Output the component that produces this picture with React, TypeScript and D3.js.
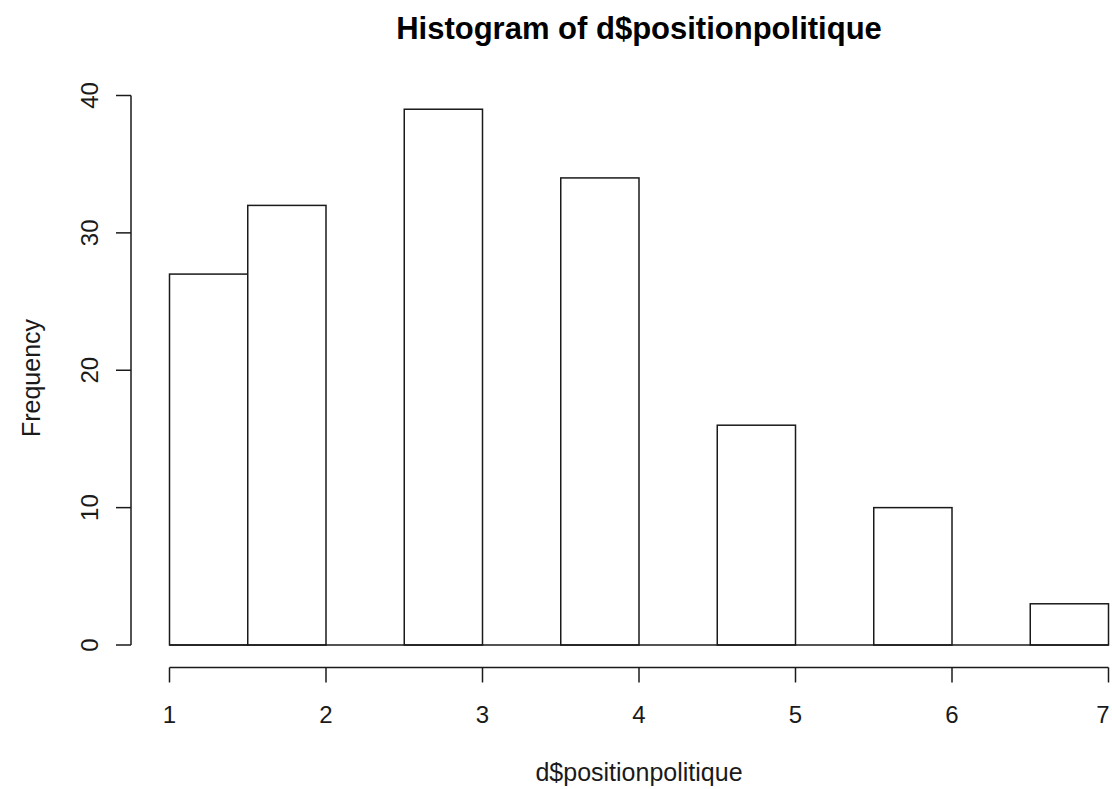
import React from "react";
import * as d3 from "d3";

// Histogram bins (width 0.5) and their counts
const binStarts = [1, 1.5, 2, 2.5, 3, 3.5, 4, 4.5, 5, 5.5, 6, 6.5];
const binWidth = 0.5;
const counts = [27, 32, 0, 39, 0, 34, 0, 16, 0, 10, 0, 3];
const xTicks = [1, 2, 3, 4, 5, 6, 7];
const yTicks = [0, 10, 20, 30, 40];

const title = "Histogram of d$positionpolitique";
const xLabel = "d$positionpolitique";
const yLabel = "Frequency";

const W = 1112;
const H = 789;
const FONT = "'Liberation Sans', Arial, Helvetica, sans-serif";
const INK = "#1a1a1a";

export default function App() {
  const x = d3.scaleLinear().domain([1, 7]).range([169.5, 1108.5]);
  const y = d3.scaleLinear().domain([0, 40]).range([645, 95.5]);

  const axisY = 667.5; // x axis line
  const axisX = 131; // y axis line
  const tick = 15;

  return (
    <svg
      width={W}
      height={H}
      style={{ position: "absolute", left: 0, top: 0, background: "#fff" }}
      fontFamily={FONT}
    >
      <rect width={W} height={H} fill="#fff" />
      {/* bars */}
      <g fill="#fff" stroke={INK} strokeWidth={1.5}>
        {binStarts.map((b, i) =>
          counts[i] > 0 ? (
            <rect
              key={i}
              x={x(b)}
              y={y(counts[i])}
              width={x(b + binWidth) - x(b)}
              height={y(0) - y(counts[i])}
            />
          ) : null
        )}
        <line x1={x(1)} x2={x(7)} y1={y(0)} y2={y(0)} />
      </g>

      {/* x axis */}
      <g stroke={INK} strokeWidth={1.5}>
        <line x1={x(1)} x2={x(7)} y1={axisY} y2={axisY} />
        {xTicks.map((t) => (
          <line key={t} x1={x(t)} x2={x(t)} y1={axisY} y2={axisY + tick} />
        ))}
      </g>
      <g fontSize={24} fill={INK} textAnchor="middle">
        {xTicks.map((t) => (
          <text key={t} x={Math.min(x(t), 1103)} y={723}>
            {t}
          </text>
        ))}
      </g>

      {/* y axis */}
      <g stroke={INK} strokeWidth={1.5}>
        <line x1={axisX} x2={axisX} y1={y(0)} y2={y(40)} />
        {yTicks.map((t) => (
          <line key={t} x1={axisX - tick} x2={axisX} y1={y(t)} y2={y(t)} />
        ))}
      </g>
      <g fontSize={24} fill={INK} textAnchor="middle">
        {yTicks.map((t) => (
          <text key={t} transform={`translate(${98},${y(t)}) rotate(-90)`}>
            {t}
          </text>
        ))}
      </g>

      {/* titles */}
      <text x={639} y={39} textAnchor="middle" fontSize={31} fontWeight="bold" fill="#000">
        {title}
      </text>
      <text x={639} y={781} textAnchor="middle" fontSize={25} fill={INK}>
        {xLabel}
      </text>
      <text
        transform={`translate(${40},${378}) rotate(-90)`}
        textAnchor="middle"
        fontSize={25}
        fill={INK}
      >
        {yLabel}
      </text>
    </svg>
  );
}
